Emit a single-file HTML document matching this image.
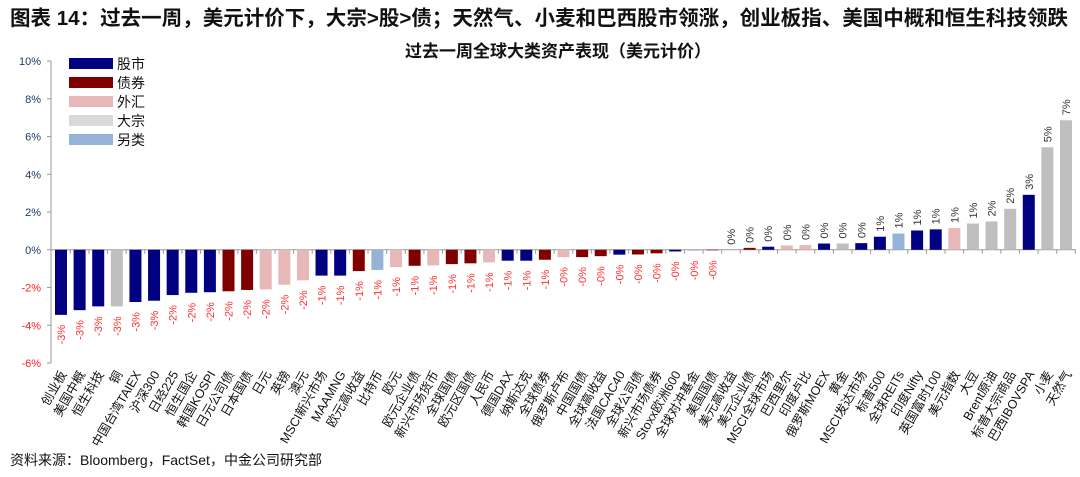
<!DOCTYPE html>
<html><head><meta charset="utf-8"><style>
body{margin:0;background:#fff;width:1080px;height:472px;overflow:hidden;font-family:"Liberation Sans","Noto Sans CJK SC",sans-serif}
svg text{font-family:"Liberation Sans","Noto Sans CJK SC",sans-serif}
</style></head><body>
<svg id="chart" width="1080" height="472" viewBox="0 0 1080 472" xmlns="http://www.w3.org/2000/svg">
<text x="10" y="25" font-size="20.5" font-weight="bold" fill="#111" textLength="1058" lengthAdjust="spacingAndGlyphs">图表 14：过去一周，美元计价下，大宗&gt;股&gt;债；天然气、小麦和巴西股市领涨，创业板指、美国中概和恒生科技领跌</text>
<text x="558" y="57" font-size="17" font-weight="bold" text-anchor="middle" fill="#111">过去一周全球大类资产表现（美元计价）</text>
<text x="10" y="465" font-size="14" fill="#111">资料来源：Bloomberg，FactSet，中金公司研究部</text>
<g id="axes"></g><g id="bars"></g><g id="legend"></g>
</svg>
<script>
const categories=["创业板","美国中概","恒生科技","铜","中国台湾TAIEX","沪深300","日经225","恒生国企","韩国KOSPI","日元公司债","日本国债","日元","英镑","澳元","MSCI新兴市场","MAAMNG","欧元高收益","比特币","欧元","欧元企业债","新兴市场货币","全球国债","欧元区国债","人民币","德国DAX","纳斯达克","全球债券","俄罗斯卢布","中国国债","全球高收益","法国CAC40","全球公司债","新兴市场债券","Stoxx欧洲600","全球对冲基金","美国国债","美元高收益","美元企业债","MSCI全球市场","巴西里尔","印度卢比","俄罗斯MOEX","黄金","MSCI发达市场","标普500","全球REITs","印度Nifty","英国富时100","美元指数","大豆","Brent原油","标普大宗商品","巴西IBOVSPA","小麦","天然气"];
const values=[-3.45,-3.2,-3.0,-3.0,-2.77,-2.7,-2.4,-2.28,-2.25,-2.2,-2.13,-2.1,-1.85,-1.62,-1.37,-1.37,-1.13,-1.07,-0.92,-0.85,-0.83,-0.76,-0.72,-0.67,-0.58,-0.58,-0.53,-0.39,-0.39,-0.34,-0.26,-0.25,-0.19,-0.09,-0.05,-0.03,0.0,0.1,0.16,0.23,0.25,0.33,0.33,0.35,0.69,0.86,1.02,1.08,1.15,1.39,1.5,2.17,2.91,5.43,6.86];
const types=["S","S","S","C","S","S","S","S","S","B","B","F","F","F","S","S","B","A","F","B","F","B","B","F","S","S","B","F","B","B","S","B","B","S","A","B","B","B","S","F","F","S","C","S","S","A","S","S","F","C","C","C","S","C","C"];
const yTicks=[10,8,6,4,2,0,-2,-4,-6];
const legendKeys=["S","B","F","C","A"];
const legendLabels=["股市","债券","外汇","大宗","另类"];
const colors={S:"#000080",B:"#800000",F:"#E6B9B8",C:"#BFBFBF",A:"#95B3D7"};
const legendColors={S:"#000080",B:"#800000",F:"#E6B9B8",C:"#D9D9D9",A:"#95B3D7"};
const NS="http://www.w3.org/2000/svg";
const yMin=-6,yMax=10,yTop=61,yBot=363,axX=51,x0=61,x1=1066;
const y=v=>yTop+(yMax-v)/(yMax-yMin)*(yBot-yTop);
const x=i=>x0+i*(x1-x0)/(categories.length-1);
function mk(t,a,p){const e=document.createElementNS(NS,t);for(const k in a)e.setAttribute(k,a[k]);p.appendChild(e);return e;}
const axes=document.getElementById('axes'),bars=document.getElementById('bars'),leg=document.getElementById('legend');
const ya=mk('line',{x1:axX,y1:yTop,x2:axX,y2:yBot,stroke:'#999'},axes);


yTicks.forEach(t=>{
 const tk=mk('line',{x1:axX-4,y1:y(t),x2:axX,y2:y(t),stroke:'#999'},axes);
 
 
 const tl=mk('text',{x:axX-10,y:y(t)+4,'font-size':11,'text-anchor':'end',fill:t<0?'#FF2020':'#1F3864'},axes);
 tl.textContent=t+'%';
 
 
});
const xa=mk('line',{x1:axX,y1:y(0),x2:1076,y2:y(0),stroke:'#999'},axes);


categories.forEach((c,i)=>{
 const v=values[i],cx=x(i),y0=y(0),yv=y(v);
 const tk=mk('line',{x1:cx+9.3,y1:y0,x2:cx+9.3,y2:y0+4,stroke:'#999'},axes);
 
 
 const r=mk('rect',{x:cx-6,y:Math.min(y0,yv),width:12,height:Math.max(Math.abs(yv-y0),0.01),fill:colors[types[i]]},bars);
 
 
 const lbl=(v<0?'-':'')+Math.round(Math.abs(v))+'%';
 let vl;
 if(v<0){vl=mk('text',{transform:`translate(${cx+4},${yv+10}) rotate(-90)`,'font-size':11,'text-anchor':'end',fill:'#FF3030'},bars);}
 else{vl=mk('text',{transform:`translate(${cx+4},${yv-5}) rotate(-90)`,'font-size':11,'text-anchor':'start',fill:'#333'},bars);}
 vl.textContent=lbl;
 
 
 const xl=mk('text',{transform:`translate(${cx+6},${y(yMin)+11}) rotate(-60)`,'font-size':12.5,'text-anchor':'end',fill:'#111'},axes);
 xl.textContent=c;
 
 
});
legendKeys.forEach((k,i)=>{
 const sy=58+i*19;
 const s=mk('rect',{x:69,y:sy,width:44,height:11,fill:legendColors[k]},leg);
 
 
 const t=mk('text',{x:117,y:sy+11,'font-size':14,fill:'#111'},leg);
 t.textContent=legendLabels[i];
 
 
});
</script>
</body></html>
